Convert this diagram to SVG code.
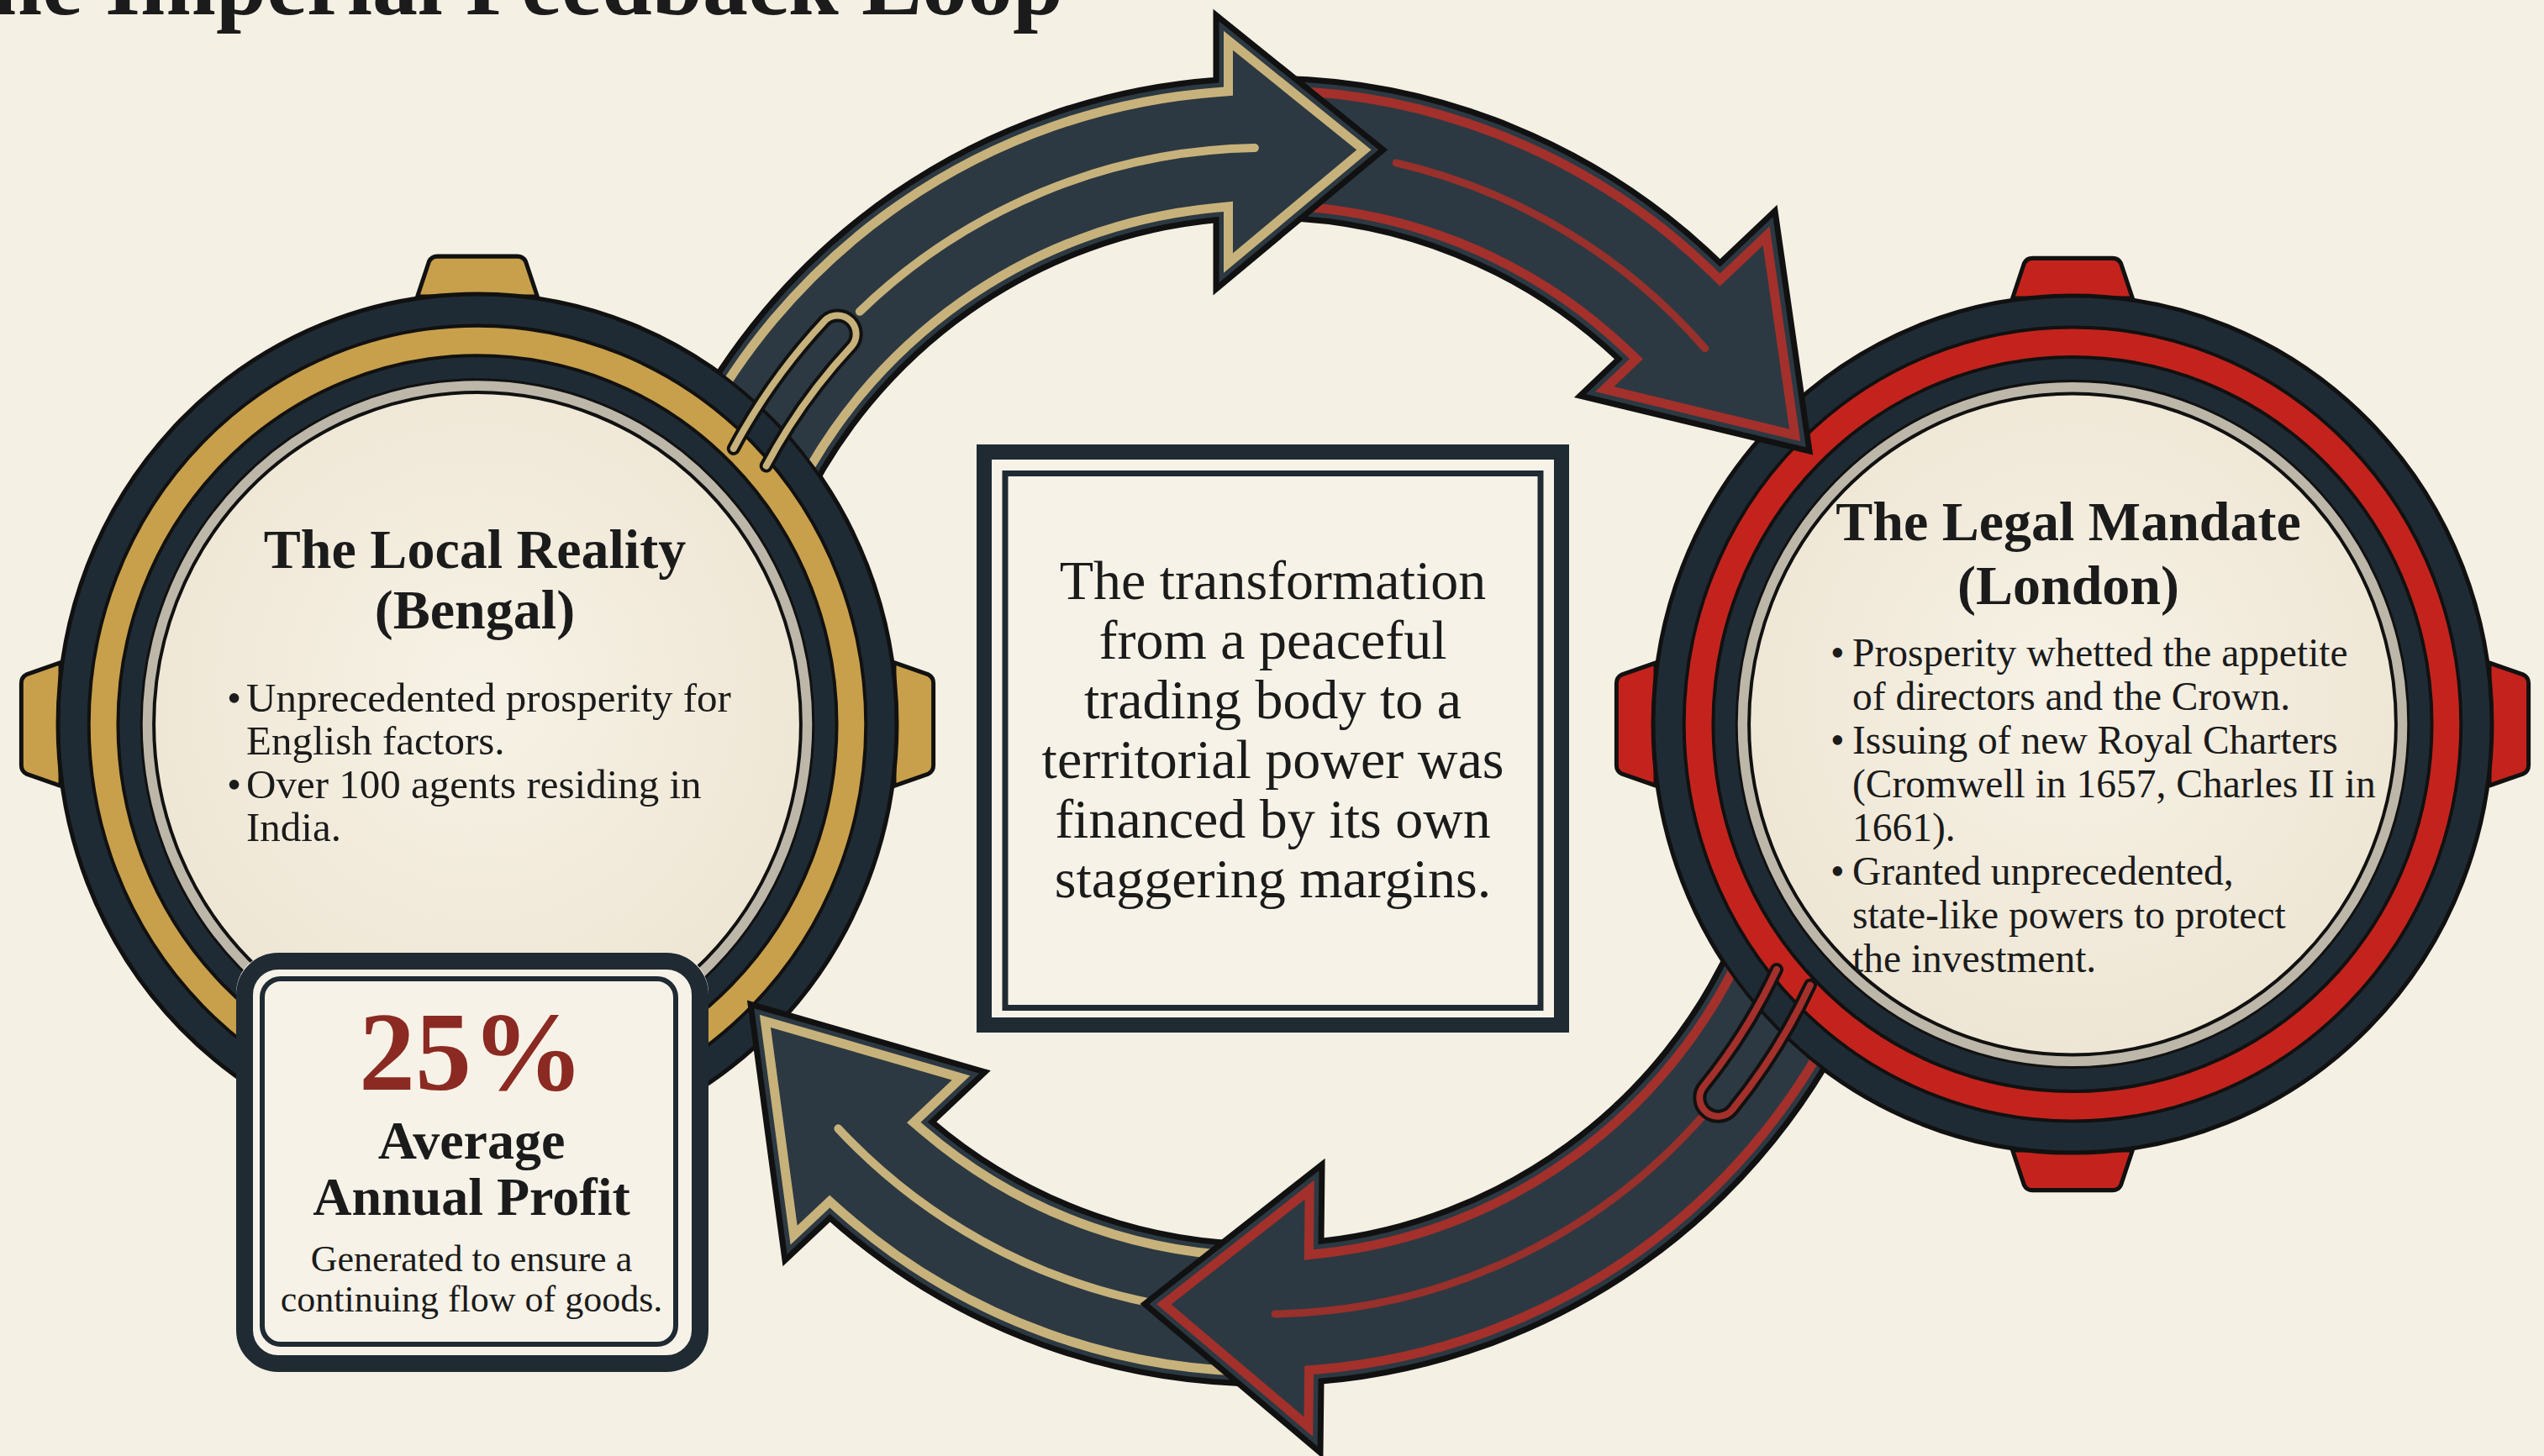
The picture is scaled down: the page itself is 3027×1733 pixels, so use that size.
<svg xmlns="http://www.w3.org/2000/svg" xmlns:xlink="http://www.w3.org/1999/xlink" width="3027" height="1733" viewBox="0 0 3027 1733">
<defs>
<style>
 text{font-family:"Liberation Serif","Times New Roman",serif;fill:#1b1b1b}
 .title{font-weight:bold;font-size:108px}
 .h{font-weight:bold;font-size:66px;text-anchor:middle}
 .b{font-size:49px}
 .br{font-size:47.5px}
 .c{font-size:66px;text-anchor:middle}
 .big{font-weight:bold;font-size:134px;text-anchor:middle;fill:#8b2a22}
 .h2{font-weight:bold;font-size:64px;text-anchor:middle}
 .s{font-size:44px;text-anchor:middle}
 .ink{stroke:#111;stroke-linejoin:round}
 .dk{fill:#1f2b34}
 .gold{fill:#c8a04b}
 .red{fill:#c4231d}
 .silver{fill:#bdb7aa}
 .band{fill:#2c3942}
 .inG{fill:none;stroke:#c8b27b;stroke-width:40;stroke-linejoin:miter}
 .inR{fill:none;stroke:#a3302b;stroke-width:40;stroke-linejoin:miter}
 .inD{fill:none;stroke:#2c3942;stroke-width:18;stroke-linejoin:miter}
 .edge{fill:none;stroke:#111;stroke-width:7;stroke-linejoin:miter}
 .midG{fill:none;stroke:#c8b27b;stroke-width:10;stroke-linecap:round}
 .midR{fill:none;stroke:#98302b;stroke-width:9;stroke-linecap:round}
 .uO{fill:none;stroke:#111;stroke-width:16;stroke-linecap:round}
 .uG{fill:none;stroke:#c8b27b;stroke-width:8;stroke-linecap:round}
 .uR{fill:none;stroke:#a3302b;stroke-width:8;stroke-linecap:round}
 .frame{fill:none;stroke:#1f2a33}
</style>
<radialGradient id="face" cx="0.5" cy="0.45" r="0.55"><stop offset="0" stop-color="#f7f2e6"/><stop offset="1" stop-color="#eee6d4"/></radialGradient>
<path id="tab" d="M -72 -500 L -58 -541 Q -55 -547 -48 -547 L 48 -547 Q 55 -547 58 -541 L 72 -500 Z"/>
<g id="ringG">
 <g class="gold ink" stroke-width="5">
  <use xlink:href="#tab" href="#tab"/>
  <use xlink:href="#tab" href="#tab" transform="rotate(90)"/>
  <use xlink:href="#tab" href="#tab" transform="rotate(180)"/>
  <use xlink:href="#tab" href="#tab" transform="rotate(270)"/>
 </g>
 <circle r="503" class="dk ink" stroke-width="5"/>
 <circle r="466" class="gold ink" stroke-width="4"/>
 <circle r="431" class="dk ink" stroke-width="4"/>
 <circle r="403" class="silver ink" stroke-width="3"/>
 <circle r="388" fill="url(#face)" class="ink" stroke-width="4"/>
</g>
<g id="ringR">
 <g class="red ink" stroke-width="5">
  <use xlink:href="#tab" href="#tab"/>
  <use xlink:href="#tab" href="#tab" transform="rotate(90)"/>
  <use xlink:href="#tab" href="#tab" transform="rotate(180)"/>
  <use xlink:href="#tab" href="#tab" transform="rotate(270)"/>
 </g>
 <circle r="503" class="dk ink" stroke-width="5"/>
 <circle r="466" class="red ink" stroke-width="4"/>
 <circle r="431" class="dk ink" stroke-width="4"/>
 <circle r="403" class="silver ink" stroke-width="3"/>
 <circle r="388" fill="url(#face)" class="ink" stroke-width="4"/>
</g>
<path id="gtop" d="M 800.8 541.6 A 777 777 0 0 1 1447 95.2 L 1447 18 L 1645.8 178.2 L 1447 344 L 1447 261.8 A 611 611 0 0 0 951.2 611.8 Z"/>
<path id="rtop" d="M 1505 93 A 777 777 0 0 1 2046.6 313 L 2112 251 L 2153 537 L 1880 471 L 1926 427.3 A 611 611 0 0 0 1505 259 Z"/>
<path id="rbot" d="M 2214.8 1186.0 A 777 777 0 0 1 1572 1644.1 L 1571 1729 L 1362 1552 L 1573 1386 L 1572 1477.3 A 611 611 0 0 0 2063.2 1118.5 Z"/>
<path id="gbot" d="M 1532.1 1646.5 A 777 777 0 0 1 987.5 1449.6 L 934 1500 L 893.1 1195.3 L 1172 1276 L 1109 1335.4 A 611 611 0 0 0 1526.3 1480.6 Z"/>
<clipPath id="cGT"><use xlink:href="#gtop" href="#gtop"/></clipPath>
<clipPath id="cRT"><use xlink:href="#rtop" href="#rtop"/></clipPath>
<clipPath id="cRB"><use xlink:href="#rbot" href="#rbot"/></clipPath>
<clipPath id="cGB"><use xlink:href="#gbot" href="#gbot"/></clipPath>
<mask id="mL" maskUnits="userSpaceOnUse" x="0" y="0" width="3027" height="1733"><rect width="3027" height="1733" fill="#fff"/><ellipse cx="568" cy="862" rx="500.5" ry="513.5" fill="#000"/></mask>
<mask id="mR" maskUnits="userSpaceOnUse" x="0" y="0" width="3027" height="1733"><rect width="3027" height="1733" fill="#fff"/><ellipse cx="2466" cy="862" rx="500.5" ry="511.5" fill="#000"/></mask>
</defs>

<rect width="3027" height="1733" fill="#f5f0e4"/>

<g id="title">
 <text class="title" x="1265" y="17" text-anchor="end">The Imperial Feedback Loop</text>
</g>

<g id="node-bengal">
 <use xlink:href="#ringG" href="#ringG" transform="translate(568 862) scale(0.992 1.018)"/>
 <text class="h" x="565" y="676">The Local Reality</text>
 <text class="h" x="565" y="748">(Bengal)</text>
 <text class="b"><tspan x="270" y="847">•</tspan><tspan x="293" y="847">Unprecedented prosperity for</tspan><tspan x="293" y="898">English factors.</tspan><tspan x="270" y="950">•</tspan><tspan x="293" y="950">Over 100 agents residing in</tspan><tspan x="293" y="1001">India.</tspan></text>
</g>

<g id="node-london">
 <use xlink:href="#ringR" href="#ringR" transform="translate(2466 862) scale(0.992 1.014)"/>
 <text class="h" x="2461" y="643">The Legal Mandate</text>
 <text class="h" x="2461" y="719">(London)</text>
 <text class="br"><tspan x="2178" y="793">•</tspan><tspan x="2204" y="793">Prosperity whetted the appetite</tspan><tspan x="2204" y="845">of directors and the Crown.</tspan><tspan x="2178" y="897">•</tspan><tspan x="2204" y="897">Issuing of new Royal Charters</tspan><tspan x="2204" y="949">(Cromwell in 1657, Charles II in</tspan><tspan x="2204" y="1001">1661).</tspan><tspan x="2178" y="1053">•</tspan><tspan x="2204" y="1053">Granted unprecedented,</tspan><tspan x="2204" y="1105">state-like powers to protect</tspan><tspan x="2204" y="1157">the investment.</tspan></text>
</g>

<g id="node-center">
 <rect x="1162" y="529" width="705" height="700" fill="#f7f2e7"/>
 <rect x="1171" y="538" width="687" height="682" class="frame" stroke-width="18"/>
 <rect x="1196" y="563.5" width="637" height="636" fill="#f0e9d9" class="frame" stroke-width="7"/>
 <text class="c"><tspan x="1514.5" y="713">The transformation</tspan><tspan x="1514.5" y="784">from a peaceful</tspan><tspan x="1514.5" y="855">trading body to a</tspan><tspan x="1514.5" y="926">territorial power was</tspan><tspan x="1514.5" y="997">financed by its own</tspan><tspan x="1514.5" y="1068">staggering margins.</tspan></text>
</g>

<g id="node-profit">
 <rect x="281" y="1134" width="562" height="499" rx="48" fill="#f7f2e7"/>
 <rect x="291" y="1144" width="542" height="479" rx="40" class="frame" stroke-width="20"/>
 <rect x="312" y="1165" width="492" height="435" rx="22" fill="#f0e9d9" class="frame" stroke-width="6"/>
 <text class="big" x="561" y="1297">25%</text>
 <text class="h2" x="561" y="1379">Average</text>
 <text class="h2" x="561" y="1446">Annual Profit</text>
 <text class="s" x="561" y="1513">Generated to ensure a</text>
 <text class="s" x="561" y="1561">continuing flow of goods.</text>
</g>

<g id="connectors">
 <g id="arrow-top-london">
  <use xlink:href="#rtop" href="#rtop" class="band"/>
  <g clip-path="url(#cRT)"><use xlink:href="#rtop" href="#rtop" class="inR"/><use xlink:href="#rtop" href="#rtop" class="inD"/></g>
  <use xlink:href="#rtop" href="#rtop" class="edge"/>
  <path class="midR" d="M 1661.1 193.8 A 694 694 0 0 1 2028.8 414.7"/>
 </g>
 <g id="arrow-top-bengal" mask="url(#mL)">
  <use xlink:href="#gtop" href="#gtop" class="band"/>
  <g clip-path="url(#cGT)"><use xlink:href="#gtop" href="#gtop" class="inG"/><use xlink:href="#gtop" href="#gtop" class="inD"/></g>
  <use xlink:href="#gtop" href="#gtop" class="edge"/>
  <path class="midG" d="M 1022.9 370.8 A 694 694 0 0 1 1492.9 176.1"/>
 </g>
 <g id="arrow-bottom-bengal">
  <use xlink:href="#gbot" href="#gbot" class="band"/>
  <g clip-path="url(#cGB)"><use xlink:href="#gbot" href="#gbot" class="inG"/><use xlink:href="#gbot" href="#gbot" class="inD"/></g>
  <use xlink:href="#gbot" href="#gbot" class="edge"/>
  <path class="midG" d="M 1372.6 1551.3 A 694 694 0 0 1 997.4 1343.3"/>
 </g>
 <g id="arrow-bottom-london" mask="url(#mR)">
  <use xlink:href="#rbot" href="#rbot" class="band"/>
  <g clip-path="url(#cRB)"><use xlink:href="#rbot" href="#rbot" class="inR"/><use xlink:href="#rbot" href="#rbot" class="inD"/></g>
  <use xlink:href="#rbot" href="#rbot" class="edge"/>
  <path class="midR" d="M 2028.8 1325.3 A 694 694 0 0 1 1517.1 1563.9"/>
 </g>
 <path class="uO" d="M 872.8 533.9 A 716 716 0 0 1 981.4 381.7 A 22 22 0 0 1 1013.5 411.7 A 672 672 0 0 0 911.7 554.5"/>
 <path class="uG" d="M 872.8 533.9 A 716 716 0 0 1 981.4 381.7 A 22 22 0 0 1 1013.5 411.7 A 672 672 0 0 0 911.7 554.5"/>
 <path class="uO" d="M 2153.9 1172.6 A 716 716 0 0 1 2061.4 1320.6 A 22 22 0 0 1 2027.2 1292.9 A 672 672 0 0 0 2114.0 1154.0"/>
 <path class="uR" d="M 2153.9 1172.6 A 716 716 0 0 1 2061.4 1320.6 A 22 22 0 0 1 2027.2 1292.9 A 672 672 0 0 0 2114.0 1154.0"/>
</g>
</svg>
